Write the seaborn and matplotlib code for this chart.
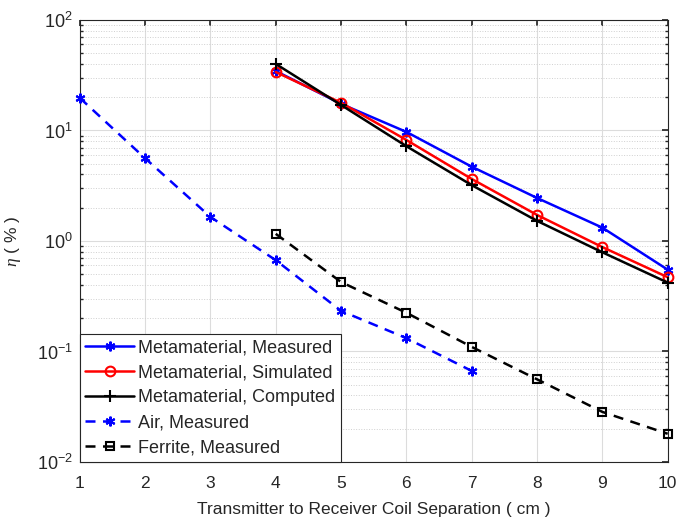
import numpy as np
import pandas as pd
import matplotlib
matplotlib.use("Agg")
import matplotlib.pyplot as plt
import seaborn as sns
from matplotlib.ticker import LogLocator, LogFormatterSciNotation, FixedLocator

sns.set_theme(style="white")
plt.rcParams['font.family'] = ['Liberation Sans', 'DejaVu Sans']
plt.rcParams['mathtext.fontset'] = 'custom'
plt.rcParams['mathtext.rm'] = 'Liberation Sans'
plt.rcParams['mathtext.it'] = 'Liberation Serif:italic'
plt.rcParams['axes.unicode_minus'] = False

x_meta = [4, 5, 6, 7, 8, 9, 10]
meta_measured = [34.5, 17.4, 9.7, 4.7, 2.45, 1.32, 0.55]
meta_simulated = [33.8, 17.8, 8.2, 3.64, 1.72, 0.88, 0.47]
meta_computed = [40.0, 17.0, 7.2, 3.2, 1.52, 0.79, 0.42]
x_air = [1, 2, 3, 4, 5, 6, 7]
air_measured = [19.7, 5.6, 1.65, 0.67, 0.233, 0.132, 0.0667]
x_ferrite = [4, 5, 6, 7, 8, 9, 10]
ferrite_measured = [1.16, 0.425, 0.224, 0.11, 0.056, 0.0284, 0.018]

series = [
    ("Metamaterial, Measured", x_meta, meta_measured, (0, 0, 1), '-', (6, 2, 0), 'fill'),
    ("Metamaterial, Simulated", x_meta, meta_simulated, (1, 0, 0), '-', 'o', 'none'),
    ("Metamaterial, Computed", x_meta, meta_computed, (0, 0, 0), '-', '+', 'fill'),
    ("Air, Measured", x_air, air_measured, (0, 0, 1), (0, (4, 3)), (6, 2, 0), 'fill'),
    ("Ferrite, Measured", x_ferrite, ferrite_measured, (0, 0, 0), (0, (4, 3)), 's', 'none'),
]

fig = plt.figure(figsize=(6.82, 5.25), dpi=100)
ax = fig.add_axes([0.117, 0.12, 0.862, 0.842])

for name, xs, ys, col, ls, mk, fill in series:
    df = pd.DataFrame({"x": xs, "y": ys})
    kw = dict(marker=mk, markersize=7, markeredgewidth=1.5, markeredgecolor=col)
    if fill == 'none':
        kw['markerfacecolor'] = 'none'
        kw['markersize'] = 7 if mk == 'o' else 5.5
    else:
        kw['markerfacecolor'] = col
    if mk == '+':
        kw['markersize'] = 9
    sns.lineplot(data=df, x="x", y="y", ax=ax, color=col, linestyle=ls,
                 linewidth=1.8, label=name, clip_on=False, zorder=3, **kw)

ax.set_yscale('log')
ax.set_xlim(1, 10)
ax.set_ylim(1e-2, 1e2)
ax.xaxis.set_major_locator(FixedLocator(range(1, 11)))
ax.yaxis.set_major_locator(LogLocator(base=10, numticks=10))
ax.yaxis.set_minor_locator(LogLocator(base=10, subs=np.arange(2, 10), numticks=20))
ax.yaxis.set_major_formatter(LogFormatterSciNotation())

ax.grid(True, which='major', axis='both', color='#dcdcdc', linewidth=0.8, linestyle='-')
ax.grid(True, which='minor', axis='y', color='#d0d0d0', linewidth=0.7, linestyle=':')
ax.set_axisbelow(True)

for s in ax.spines.values():
    s.set_visible(True)
    s.set_color('#262626')
    s.set_linewidth(0.8)

ax.tick_params(axis='both', which='both', direction='in', top=True, right=True,
               colors='#262626', length=4)
ax.tick_params(axis='y', which='minor', length=2.5, left=True, right=True)
ax.tick_params(axis='x', pad=10, labelsize=12.5)
ax.tick_params(axis='y', labelsize=13, pad=5)

ax.set_xlabel("Transmitter to Receiver Coil Separation ( cm )", fontsize=12.5,
              color='#262626', labelpad=8)
ax.set_ylabel(r"$\eta$ ( % )", fontsize=12.5, color='#262626', labelpad=10)

leg = ax.legend(loc='lower left', fontsize=13, frameon=True, fancybox=False,
                edgecolor='#262626', framealpha=1, borderaxespad=0, handlelength=2.7,
                labelspacing=0.45, borderpad=0.3, handletextpad=0.25, numpoints=1)
leg.get_frame().set_linewidth(0.8)
leg.set_zorder(10)

fig.savefig("out.png", dpi=100)
